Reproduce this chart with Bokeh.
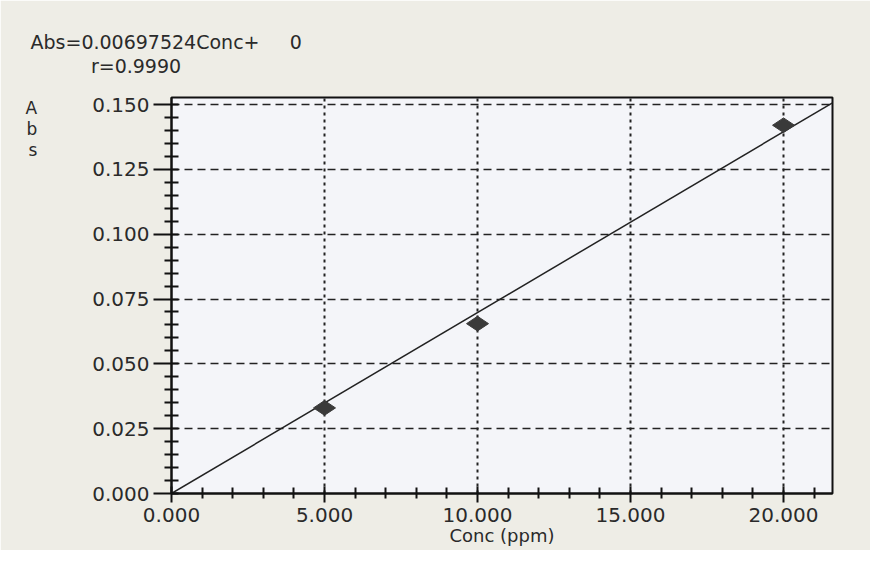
import numpy as np
from bokeh.plotting import figure
from bokeh.models import (Range1d, Title, FixedTicker, NumeralTickFormatter,
                          ColumnDataSource)
from bokeh.embed import file_html
from bokeh.resources import INLINE

# data
conc = [5.0, 10.0, 20.0]
absorb = [0.033, 0.0655, 0.142]
slope = 0.00697524
intercept = 0.0
r_value = "0.9990"
x_major = [0, 5, 10, 15, 20]
x_minor = [1, 2, 3, 4, 6, 7, 8, 9, 11, 12, 13, 14, 16, 17, 18, 19, 21]
y_major = [0.0, 0.025, 0.05, 0.075, 0.1, 0.125, 0.15]
y_minor = [i * 0.005 for i in range(31) if i % 5 != 0]
x_max = 21.6
y_max = 0.1527

BG = "#eeede6"
W, H = 870, 550
FL, FB = 171, 57  # frame left / bottom borders
p = figure(width=W, height=H, output_backend="svg", toolbar_location=None,
           x_range=Range1d(0, x_max), y_range=Range1d(0, y_max),
           min_border_left=FL, min_border_right=38, min_border_top=97,
           min_border_bottom=FB)
p.border_fill_color = BG
p.background_fill_color = "#f4f5f9"
p.outline_line_color = "#111111"
p.outline_line_width = 2

font = "DejaVu Sans"
for ax in (p.xaxis[0], p.yaxis[0]):
    ax.axis_line_color = "#111111"
    ax.axis_line_width = 2
    ax.major_tick_line_color = "#111111"
    ax.minor_tick_line_color = "#111111"
    ax.major_tick_line_width = 2
    ax.minor_tick_line_width = 2
    ax.major_label_text_font = font
    ax.major_label_text_font_size = "20px"
    ax.major_label_text_color = "#2a2a2a"

p.xaxis[0].ticker = FixedTicker(ticks=x_major, minor_ticks=x_minor)
p.yaxis[0].ticker = FixedTicker(ticks=y_major, minor_ticks=y_minor)
p.xaxis[0].formatter = NumeralTickFormatter(format="0.000")
p.yaxis[0].formatter = NumeralTickFormatter(format="0.000")
p.xaxis[0].major_tick_in = 7
p.xaxis[0].major_tick_out = 9
p.xaxis[0].minor_tick_in = 6
p.xaxis[0].minor_tick_out = 5
p.xaxis[0].major_label_standoff = 5
p.yaxis[0].major_tick_in = 7
p.yaxis[0].major_tick_out = 18
p.yaxis[0].minor_tick_in = 7
p.yaxis[0].minor_tick_out = 7
p.yaxis[0].major_label_standoff = 4
p.xaxis[0].axis_label = "Conc (ppm)"
p.xaxis[0].axis_label_text_font = font
p.xaxis[0].axis_label_text_font_size = "18px"
p.xaxis[0].axis_label_text_font_style = "normal"
p.xaxis[0].axis_label_text_color = "#2a2a2a"
p.xaxis[0].axis_label_standoff = 0

# vertical stacked "A b s" label near the top of the y axis
p.yaxis[0].axis_label = "\n\n\nA\nb\ns"
p.yaxis[0].axis_label_orientation = "horizontal"
p.yaxis[0].axis_label_align = "end"
p.yaxis[0].axis_label_text_font = font
p.yaxis[0].axis_label_text_font_size = "17px"
p.yaxis[0].axis_label_text_font_style = "normal"
p.yaxis[0].axis_label_text_color = "#2a2a2a"
p.yaxis[0].axis_label_text_line_height = 1.05
p.yaxis[0].axis_label_standoff = 52

p.xgrid[0].grid_line_color = "#222222"
p.xgrid[0].grid_line_dash = "3 4"
p.xgrid[0].grid_line_width = 2
p.ygrid[0].grid_line_color = "#222222"
p.ygrid[0].grid_line_dash = "8 5"
p.ygrid[0].grid_line_width = 1.5

# fit line
xs = [0.0, x_max]
ys = [intercept + slope * x for x in xs]
p.line(xs, ys, line_color="#222222", line_width=1.5)

# points
src = ColumnDataSource(dict(x=conc, y=absorb))
p.scatter("x", "y", source=src, marker="diamond", size=22, angle=np.pi / 2,
          fill_color="#3a3a3a", line_color="#3a3a3a")

# equation and r as one two-line title above the frame
NB = "\u00a0"
eq_text = "Abs=%sConc+%s%d" % (f"{slope:.8f}", NB * 5, int(intercept))
r_text = NB * 10 + "r=" + r_value
t_eq = Title(text=eq_text + "\n" + r_text, align="left", offset=30 - FL,
             text_font=font, text_font_size="19px", text_font_style="normal",
             text_color="#2a2a2a", text_line_height=1.1, standoff=40)
p.add_layout(t_eq, "above")

html = file_html(p, INLINE)
html = html.replace("<body>", '<body style="background:%s">' % BG, 1)
open("out.html", "w").write(html)
